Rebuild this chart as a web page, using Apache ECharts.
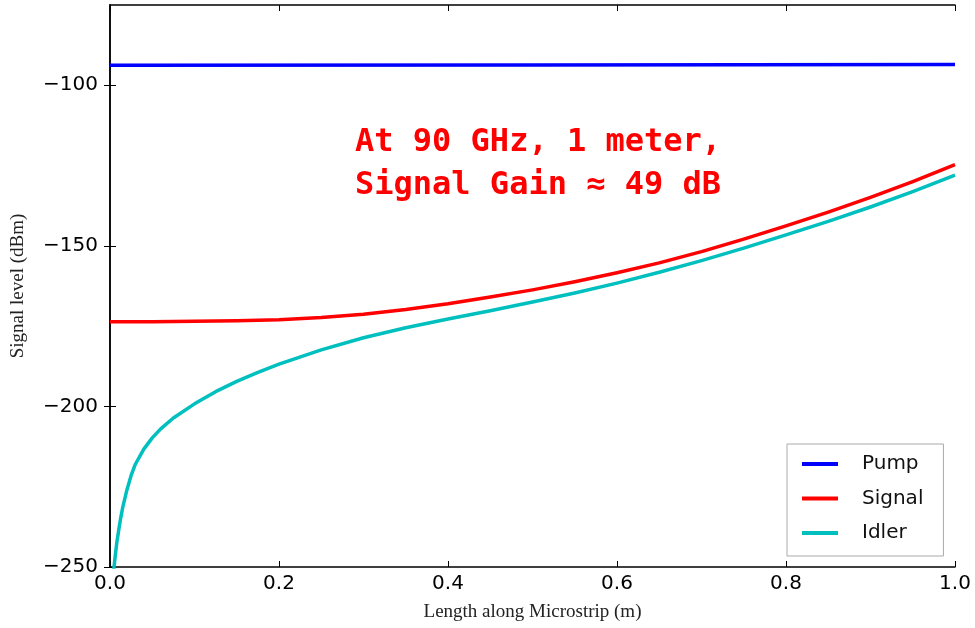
<!DOCTYPE html>
<html lang="en">
<head>
    <meta charset="UTF-8" />
    <title>Signal level along microstrip</title>
    <script src="https://cdn.jsdelivr.net/npm/echarts@6/dist/echarts.min.js"></script>
    <style>
        html, body { margin: 0; padding: 0; background: #fff; }
        #chart { width: 975px; height: 628px; }
    </style>
</head>
<body>
    <div id="chart"></div>
    <script>
        // values
        var pumpX = [0, 0.5, 1.0];
        var pumpY = [-93.8, -93.7, -93.5];

        var signalX = [0, 0.05, 0.1, 0.15, 0.2, 0.25, 0.3, 0.35, 0.4, 0.45, 0.5, 0.55, 0.6, 0.65, 0.7, 0.75, 0.8, 0.85, 0.9, 0.95, 1.0];
        var signalY = [-173.6, -173.6, -173.5, -173.3, -173.0, -172.3, -171.3, -169.8, -168.0, -165.9, -163.7, -161.2, -158.4, -155.3, -151.8, -147.9, -143.8, -139.5, -134.9, -130.0, -124.7];

        var idlerX = [0.004, 0.006, 0.008, 0.01, 0.0125, 0.015, 0.02, 0.025, 0.03, 0.04, 0.05, 0.06, 0.075, 0.1, 0.125, 0.15, 0.175, 0.2, 0.25, 0.3, 0.35, 0.4, 0.45, 0.5, 0.55, 0.6, 0.65, 0.7, 0.75, 0.8, 0.85, 0.9, 0.95, 1.0];
        var idlerY = [-252, -247, -242.5, -239, -235, -231.5, -226, -221.5, -218, -213.3, -209.8, -207, -203.6, -199.2, -195.4, -192.2, -189.4, -186.8, -182.4, -178.6, -175.5, -172.8, -170.2, -167.5, -164.7, -161.6, -158.2, -154.6, -150.7, -146.6, -142.4, -137.9, -133.1, -128.0];

        var xTicks = [0, 0.2, 0.4, 0.6, 0.8, 1.0];
        var yTicks = [-250, -200, -150, -100];

        function pairs(xs, ys) {
            var out = [];
            for (var i = 0; i < xs.length; i++) out.push([xs[i], ys[i]]);
            return out;
        }

        var tickFont = { fontFamily: "DejaVu Sans", fontSize: 20, color: "#000" };
        var frameLine = { show: true, lineStyle: { color: "#000", width: 1.5 } };

        var myChart = echarts.init(document.getElementById("chart"));
        var option = {
            animation: false,
            backgroundColor: "#fff",
            grid: { left: 110, right: 20, top: 5, bottom: 61, outerBoundsMode: "none" },
            xAxis: [
                {
                    type: "value", min: 0, max: 1, interval: 0.2,
                    axisLine: frameLine,
                    axisTick: { inside: true, length: 6, customValues: xTicks, lineStyle: { color: "#000" } },
                    splitLine: { show: false },
                    axisLabel: Object.assign({ margin: 7, customValues: xTicks, formatter: function (v) { return v.toFixed(1); } }, tickFont),
                    name: "Length along Microstrip (m)", nameLocation: "middle", nameGap: 36,
                    nameTextStyle: { fontFamily: "Liberation Serif", fontSize: 19, color: "#222" }
                },
                {
                    type: "value", min: 0, max: 1, interval: 0.2, position: "top",
                    axisLine: frameLine,
                    axisTick: { inside: true, length: 6, customValues: xTicks, lineStyle: { color: "#000" } },
                    axisLabel: { show: false }, splitLine: { show: false }
                }
            ],
            yAxis: [
                {
                    type: "value", min: -250, max: -75, interval: 50,
                    axisLine: frameLine,
                    axisTick: { inside: true, length: 6, customValues: yTicks, lineStyle: { color: "#000" } },
                    splitLine: { show: false },
                    axisLabel: Object.assign({
                        margin: 12, customValues: yTicks,
                        formatter: function (v) { return String(v).replace("-", "\u2212"); }
                    }, tickFont),
                    name: "Signal level (dBm)", nameLocation: "middle", nameGap: 82,
                    nameTextStyle: { fontFamily: "Liberation Serif", fontSize: 19, color: "#222" }
                },
                {
                    type: "value", min: -250, max: -75, interval: 50, position: "right",
                    axisLine: frameLine,
                    axisTick: { inside: true, length: 6, customValues: yTicks, lineStyle: { color: "#000" } },
                    axisLabel: { show: false }, splitLine: { show: false }
                }
            ],
            legend: {
                orient: "vertical",
                left: 787, top: 444,
                padding: [10, 20, 13, 15],
                itemGap: 14.5,
                itemWidth: 36, itemHeight: 4,
                icon: "rect",
                borderColor: "#aaa", borderWidth: 1, borderRadius: 0,
                backgroundColor: "#fff",
                textStyle: { fontFamily: "DejaVu Sans", fontSize: 20, color: "#111", padding: [0, 0, 0, 19] },
                data: ["Pump", "Signal", "Idler"]
            },
            graphic: [
                {
                    type: "text", left: 355, top: 121,
                    style: {
                        text: "At 90 GHz, 1 meter,\nSignal Gain \u2248 49 dB",
                        fill: "#ff0000",
                        font: "bold 32px 'DejaVu Sans Mono', 'Liberation Mono', monospace",
                        lineHeight: 43
                    }
                }
            ],
            series: [
                { name: "Pump", type: "line", data: pairs(pumpX, pumpY), showSymbol: false, lineStyle: { color: "#0000ff", width: 3.5 }, itemStyle: { color: "#0000ff" }, clip: true },
                { name: "Signal", type: "line", data: pairs(signalX, signalY), showSymbol: false, lineStyle: { color: "#ff0000", width: 3.5, join: "round" }, itemStyle: { color: "#ff0000" }, clip: true },
                { name: "Idler", type: "line", data: pairs(idlerX, idlerY), showSymbol: false, lineStyle: { color: "#00bfbf", width: 3.5, join: "round" }, itemStyle: { color: "#00bfbf" }, clip: true }
            ]
        };
        myChart.setOption(option);
    </script>
</body>
</html>
